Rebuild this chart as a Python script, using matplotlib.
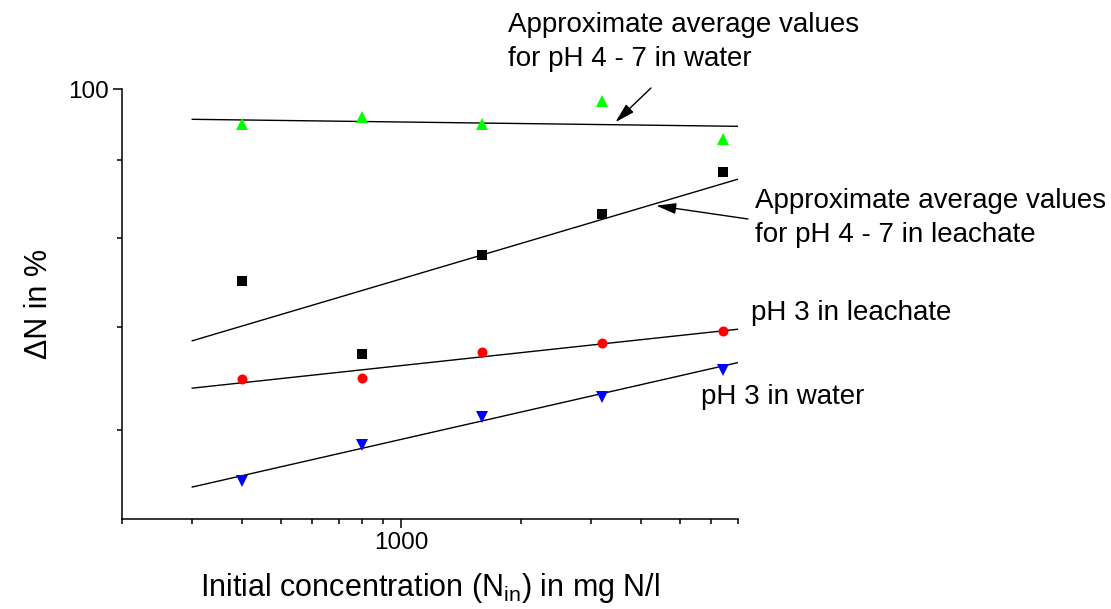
import matplotlib
matplotlib.use("Agg")
import matplotlib.pyplot as plt
from matplotlib.ticker import LogLocator, NullFormatter, FixedLocator, FixedFormatter

plt.rcParams['font.family'] = ['Liberation Sans', 'DejaVu Sans']
plt.rcParams['mathtext.fontset'] = 'custom'
plt.rcParams['mathtext.rm'] = 'Liberation Sans'

# initial N concentration (mg N/l) and removal in %
conc = [400, 800, 1600, 3200, 6400]
water_ph4_7 = [94.9, 95.9, 94.9, 98.2, 92.8]
leachate_ph4_7 = [75.0, 67.3, 78.0, 83.0, 88.4]
leachate_ph3 = [64.8, 64.9, 67.5, 68.4, 69.6]
water_ph3 = [55.6, 58.7, 61.2, 63.1, 65.7]

# approximate trend lines (end points)
line_x = [300, 7000]
water_ph4_7_line = [95.6, 94.6]
leachate_ph4_7_line = [68.6, 87.4]
leachate_ph3_line = [63.9, 69.8]
water_ph3_line = [55.1, 66.4]

fig = plt.figure(figsize=(11.11, 6.09), dpi=100)
ax = fig.add_axes([0.1098, 0.1473, 0.5545, 0.7061])

for yl in (water_ph4_7_line, leachate_ph4_7_line, leachate_ph3_line, water_ph3_line):
    ax.plot(line_x, yl, color='black', lw=1.0, zorder=2)

ax.plot(conc, water_ph4_7, '^', color='#00ff00', ms=8, mew=0, zorder=3)
ax.plot(conc, leachate_ph4_7, 's', color='black', ms=6.7, mew=0, zorder=3)
ax.plot(conc, leachate_ph3, 'o', color='#ff0000', ms=7.2, mew=0, zorder=3)
ax.plot(conc, water_ph3, 'v', color='#0000ff', ms=8, mew=0, zorder=3)

ax.set_xscale('log')
ax.set_yscale('log')
ax.set_xlim(200, 7000)
ax.set_ylim(52.5, 100)

ax.xaxis.set_major_locator(FixedLocator([1000]))
ax.xaxis.set_major_formatter(FixedFormatter(['1000']))
ax.xaxis.set_minor_locator(LogLocator(base=10, subs=range(2, 10)))
ax.xaxis.set_minor_formatter(NullFormatter())
ax.yaxis.set_major_locator(FixedLocator([100]))
ax.yaxis.set_major_formatter(FixedFormatter(['100']))
ax.yaxis.set_minor_locator(LogLocator(base=10, subs=range(2, 10)))
ax.yaxis.set_minor_formatter(NullFormatter())

for s in ('top', 'right'):
    ax.spines[s].set_visible(False)
for s in ('left', 'bottom'):
    ax.spines[s].set_linewidth(1.1)
ax.tick_params(which='major', direction='out', length=6.5, width=1.1, labelsize=17.5, pad=3)
ax.tick_params(which='minor', direction='out', length=3.6, width=1.1)

ax.set_xlabel(r'Initial concentration (N$_{\rm in}$) in mg N/l', fontsize=22, labelpad=12)
ax.set_ylabel('ΔN in %', fontsize=22, labelpad=10)

H = 609
ax.annotate('', xy=(3450, 95.2), xycoords='data',
            xytext=(651, H - 88), textcoords='figure pixels',
            arrowprops=dict(arrowstyle='-|>,head_length=0.8,head_width=0.22',
                            color='black', lw=1, mutation_scale=15,
                            shrinkA=0, shrinkB=0))
ax.annotate('', xy=(4365, 84.0), xycoords='data',
            xytext=(748, H - 219), textcoords='figure pixels',
            arrowprops=dict(arrowstyle='-|>,head_length=0.8,head_width=0.22',
                            color='black', lw=1, mutation_scale=15,
                            shrinkA=0, shrinkB=0))

fig.text(508 / 1111, (H - 42) / H, 'Approximate average values\nfor pH 4 - 7 in water',
         fontsize=20, ha='left', va='center', linespacing=1.45)
fig.text(755 / 1111, (H - 218) / H, 'Approximate average values\nfor pH 4 - 7 in leachate',
         fontsize=20, ha='left', va='center', linespacing=1.45)
fig.text(751 / 1111, (H - 313) / H, 'pH 3 in leachate', fontsize=20, ha='left', va='center')
fig.text(701 / 1111, (H - 397) / H, 'pH 3 in water', fontsize=20, ha='left', va='center')

fig.savefig('out.png', dpi=100)
